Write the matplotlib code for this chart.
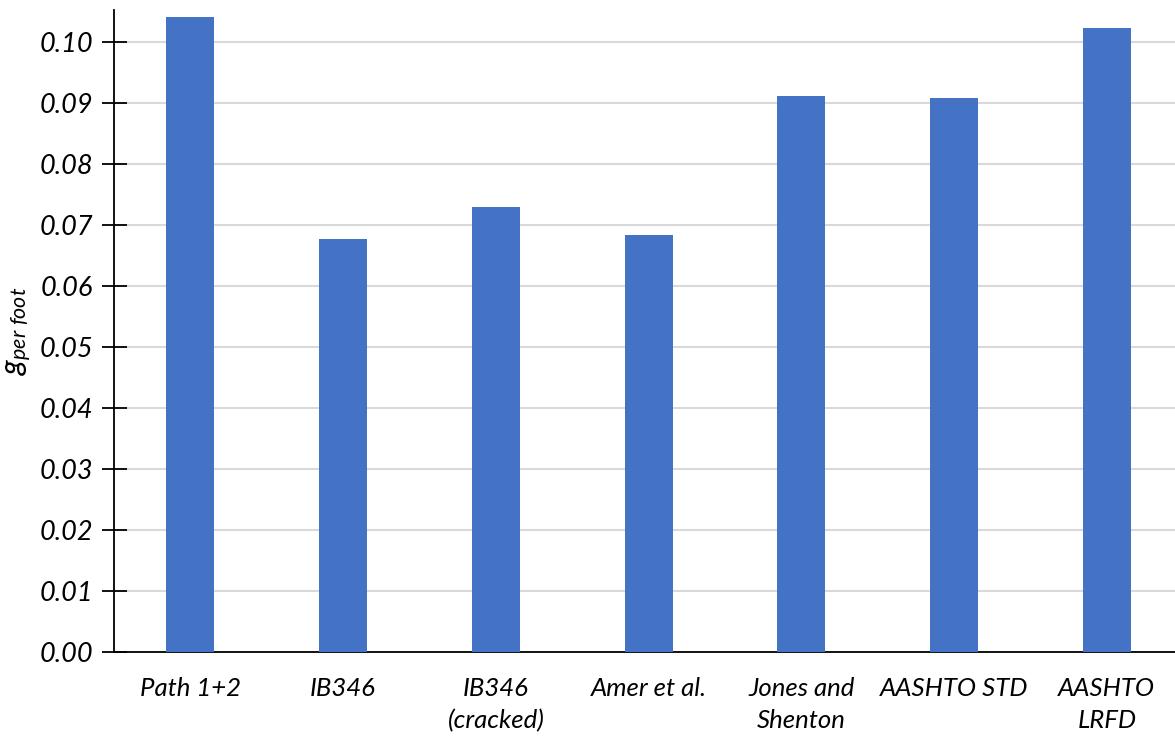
import numpy as np
import matplotlib
matplotlib.use('Agg')
import matplotlib.pyplot as plt

plt.rcParams['font.family'] = 'Lato'
plt.rcParams['font.style'] = 'italic'
plt.rcParams['mathtext.fontset'] = 'custom'
plt.rcParams['mathtext.it'] = 'Lato:italic'
plt.rcParams['mathtext.rm'] = 'Lato:italic'

categories = ['Path 1+2', 'IB346', 'IB346\n(cracked)', 'Amer et al.',
              'Jones and\nShenton', 'AASHTO STD', 'AASHTO\nLRFD']
values = [0.1041, 0.0677, 0.0730, 0.0684, 0.0912, 0.0908, 0.1023]
yticks = np.arange(0, 0.101, 0.01)

fig = plt.figure(figsize=(11.75, 7.36), dpi=100)
ax = fig.add_axes([0.097, 0.114, 0.91, 0.872])

x = np.arange(len(categories))
ax.bar(x, values, width=0.315, color='#4472C4', zorder=3)

ax.set_xlim(-0.5, len(categories) - 0.5)
ax.set_ylim(0, 0.1052)
ax.set_yticks(yticks)
ax.set_yticklabels([f'{v:.2f}' for v in yticks], fontsize=19.5, style='italic')
ax.set_xticks(x)
ax.set_xticklabels(categories, fontsize=18.5, style='italic', linespacing=1.45)
ax.tick_params(axis='x', length=0, pad=18)
ax.tick_params(axis='y', direction='inout', length=18, width=1.3, pad=6)

ax.grid(axis='y', color='#d9d9d9', linewidth=1.5, zorder=0)
for s in ['top', 'right']:
    ax.spines[s].set_visible(False)
ax.spines['left'].set_linewidth(1.3)
ax.spines['bottom'].set_linewidth(1.3)

ax.set_ylabel(r'$g_{per\ foot}$', fontsize=22, labelpad=4)

plt.savefig('out.png', dpi=100)
